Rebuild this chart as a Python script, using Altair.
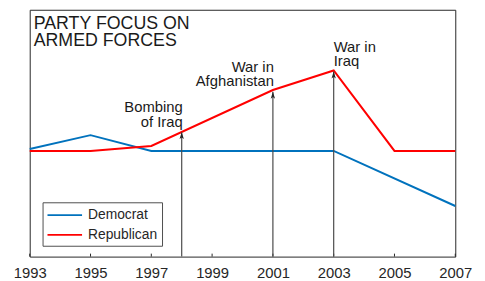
import altair as alt
import pandas as pd

# ---- data ----
dem_years = [1993, 1995, 1997, 2003, 2007]
dem_vals = [43.6, 49.2, 42.8, 42.8, 20.5]

rep_years = [1993, 1995, 1997, 2001, 2003, 2005, 2007]
rep_vals = [42.8, 42.8, 44.8, 67.5, 75.4, 42.8, 42.8]

ann_years = [1998, 2001, 2003]
ann_tips = [50.4, 66.8, 75.0]
ann_labels = ["Bombing\nof Iraq", "War in\nAfghanistan", "War in\nIraq"]
ann_side = ["right", "right", "left"]

tick_years = [1993, 1995, 1997, 1999, 2001, 2003, 2005, 2007]
title_lines = ["PARTY FOCUS ON", "ARMED FORCES"]

FONT = "Liberation Sans"
INK = "#262626"

lines_df = pd.DataFrame(
    {"year": dem_years + rep_years,
     "value": dem_vals + rep_vals,
     "party": ["Democrat"] * len(dem_years) + ["Republican"] * len(rep_years)}
)
ann_df = pd.DataFrame({"year": ann_years, "tip": ann_tips, "label": ann_labels,
                       "side": ann_side, "base": [0] * len(ann_years)})
ticks_df = pd.DataFrame({"year": tick_years})
title_df = pd.DataFrame({"txt": ["\n".join(title_lines)]})

xscale = alt.Scale(domain=[1993, 2007], nice=False, zero=False)
yscale = alt.Scale(domain=[0, 100], nice=False, zero=False)

x_axis = alt.Axis(values=tick_years, format="d", grid=False, domain=False,
                  ticks=False, labelPadding=9, labelFontSize=15,
                  labelFont=FONT, labelColor=INK, title=None, labelFlush=False)

lines = alt.Chart(lines_df).mark_line(strokeWidth=2).encode(
    x=alt.X("year:Q", scale=xscale, axis=x_axis),
    y=alt.Y("value:Q", scale=yscale, axis=None),
    color=alt.Color(
        "party:N",
        scale=alt.Scale(domain=["Democrat", "Republican"], range=["#0072BD", "#FF0000"]),
        legend=alt.Legend(
            title=None, orient="none", legendX=13, legendY=195,
            symbolType="M-1,0H3.375", symbolSize=256, symbolStrokeWidth=2,
            labelFont=FONT, labelFontSize=14, labelColor=INK, labelOffset=24,
            rowPadding=4, padding=4, strokeColor="#4d4d4d", fillColor="white",
        ),
    ),
)

inner_ticks = alt.Chart(ticks_df).mark_rule(color=INK, strokeWidth=1).encode(
    x=alt.X("year:Q", scale=xscale),
    y=alt.value(250), y2=alt.value(247),
)

arrows = alt.Chart(ann_df).mark_rule(color="#4a4a4a", strokeWidth=1.2).encode(
    x=alt.X("year:Q", scale=xscale),
    y=alt.Y("base:Q", scale=yscale),
    y2="tip:Q",
)

heads = alt.Chart(ann_df).mark_point(
    shape="M0,-1L0.55,0.75L0,0.35L-0.55,0.75Z", size=64, filled=True,
    color="#262626", opacity=1, yOffset=4,
).encode(
    x=alt.X("year:Q", scale=xscale),
    y=alt.Y("tip:Q", scale=yscale),
)

ann_right = alt.Chart(ann_df).transform_filter(alt.datum.side == "right").mark_text(
    align="right", baseline="alphabetic", dy=-20, dx=1, fontSize=15, font=FONT,
    color="#1a1a1a", lineBreak="\n", lineHeight=14.5,
).encode(
    x=alt.X("year:Q", scale=xscale),
    y=alt.Y("tip:Q", scale=yscale),
    text="label:N",
)

ann_left = alt.Chart(ann_df).transform_filter(alt.datum.side == "left").mark_text(
    align="left", baseline="alphabetic", dy=-20, fontSize=15, font=FONT,
    color="#1a1a1a", lineBreak="\n", lineHeight=14.5,
).encode(
    x=alt.X("year:Q", scale=xscale),
    y=alt.Y("tip:Q", scale=yscale),
    text="label:N",
)

title = alt.Chart(title_df).mark_text(
    align="left", baseline="alphabetic", fontSize=18, font=FONT,
    color="#1a1a1a", lineHeight=17.7, lineBreak="\n",
).encode(
    x=alt.value(4), y=alt.value(19.3), text="txt:N",
)

chart = alt.layer(lines, inner_ticks, arrows, heads, ann_right, ann_left, title).properties(
    width=431, height=250,
    padding={"left": 5, "top": 0, "right": 5, "bottom": 5},
).configure_view(
    stroke=INK, strokeWidth=1,
)

chart.save("out.html", embed_options={"renderer": "svg", "actions": False})
